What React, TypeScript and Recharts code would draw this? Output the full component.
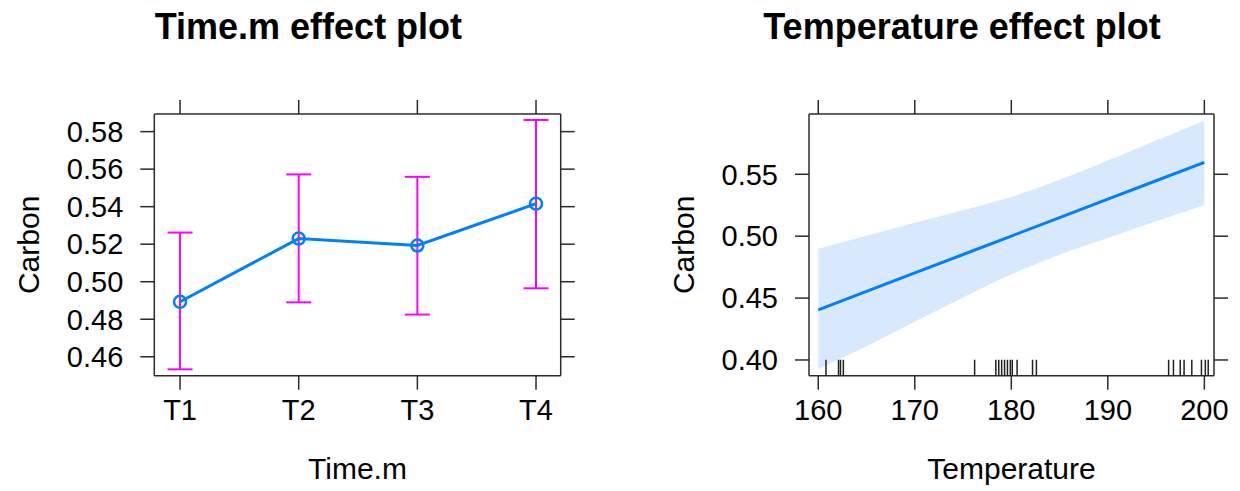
import React from 'react';
import { ComposedChart, Line, Area, Scatter, XAxis, YAxis, ErrorBar, Label } from 'recharts';

// Time.m effect: fitted means with 95% limits
const timeLevels = ['T1', 'T2', 'T3', 'T4'];
const timeFit = [0.4893, 0.523, 0.5193, 0.5416];
const timeLower = [0.4533, 0.489, 0.4825, 0.4965];
const timeUpper = [0.5262, 0.5572, 0.5559, 0.5862];
const timeYTicks = [0.46, 0.48, 0.5, 0.52, 0.54, 0.56, 0.58];
const timeXDomain = [0.783, 4.208];
const timeYDomain = [0.4499, 0.5894];

// Temperature effect: fitted line with confidence band
const tempGrid = [160, 165, 170, 175, 180, 185, 190, 195, 200];
const tempFit = [0.4405, 0.4554, 0.4703, 0.4852, 0.5001, 0.515, 0.5299, 0.5448, 0.5597];
const tempLower = [0.3925, 0.411, 0.431, 0.4505, 0.4692, 0.485, 0.4985, 0.512, 0.5252];
const tempUpper = [0.4898, 0.5003, 0.5108, 0.521, 0.5316, 0.5455, 0.5612, 0.5772, 0.5933];
const tempRug = [
  160.8, 162.1, 162.3, 162.6, 176.2, 178.4, 178.7, 179.0, 179.3, 179.6, 179.9,
  180.1, 180.6, 182.2, 182.6, 196.3, 196.8, 197.5, 197.9, 198.7, 199.7, 200.1, 200.4,
];
const tempXTicks = [160, 170, 180, 190, 200];
const tempYTicks = [0.4, 0.45, 0.5, 0.55];
const tempXDomain = [159.04, 201.0];
const tempYDomain = [0.3873, 0.5987];

const FONT = '"Liberation Sans", Arial, Helvetica, sans-serif';
const AXIS = '#2b2b2b';
const BLUE = '#0080ff';
const MAGENTA = '#ff00ff';
const BAND = '#d8e9fd';

const PANEL_W = 620;
const PANEL_H = 491;
const PLOT_TOP = 114;
const PLOT_BOTTOM_SPACE = 115.3;
const TICK_LEN = 14;

const tickStyle = { fill: '#000', fontSize: 29, fontFamily: FONT };
const axisCommon = {
  stroke: AXIS,
  strokeWidth: 1.5,
  tickSize: TICK_LEN,
  interval: 0 as const,
};
const blankTick = () => '';

const timeRows = timeLevels.map((lv, i) => ({
  pos: i + 1,
  level: lv,
  fit: timeFit[i],
  err: [timeFit[i] - timeLower[i], timeUpper[i] - timeFit[i]],
}));

const tempRows = tempGrid.map((t, i) => ({
  t,
  fit: tempFit[i],
  band: [tempLower[i], tempUpper[i]],
}));

const rugRows = tempRug.map((t) => ({ t, y: tempYDomain[0] }));

function titleContent(text: string, x: number) {
  return () => (
    <text x={x} y={38.5} textAnchor="middle" fontFamily={FONT} fontWeight="bold" fontSize={36} fill="#000">
      {text}
    </text>
  );
}

function xLabelContent(text: string, x: number) {
  return () => (
    <text x={x} y={478.5} textAnchor="middle" fontFamily={FONT} fontSize={30} fill="#000">
      {text}
    </text>
  );
}

function yLabelContent(text: string, x: number, y: number) {
  return () => (
    <text
      x={x}
      y={y}
      transform={`rotate(-90, ${x}, ${y})`}
      textAnchor="middle"
      fontFamily={FONT}
      fontSize={30}
      fill="#000"
    >
      {text}
    </text>
  );
}

const RugTick = (props: any) => {
  const { cx, cy } = props;
  if (cx == null || cy == null) return null;
  return <line x1={cx} x2={cx} y1={cy} y2={cy - 16} stroke="#222" strokeWidth={1.5} />;
};

function TimePanel() {
  const leftW = 154.3;
  const rightW = PANEL_W - 560.7;
  const plotH = PANEL_H - PLOT_TOP - PLOT_BOTTOM_SPACE;
  const plotW = PANEL_W - leftW - rightW;
  return (
    <ComposedChart
      width={PANEL_W}
      height={PANEL_H}
      data={timeRows}
      margin={{ top: 0, right: 0, bottom: 0, left: 0 }}
    >
      <XAxis
        xAxisId="b"
        dataKey="pos"
        type="number"
        orientation="bottom"
        height={PLOT_BOTTOM_SPACE}
        domain={timeXDomain}
        allowDataOverflow
        ticks={[1, 2, 3, 4]}
        tickFormatter={(v: number) => timeLevels[v - 1]}
        tick={tickStyle}
        tickMargin={10}
        {...axisCommon}
      >
        <Label content={xLabelContent('Time.m', leftW + plotW / 2)} />
      </XAxis>
      <XAxis
        xAxisId="t"
        dataKey="pos"
        type="number"
        orientation="top"
        height={PLOT_TOP}
        domain={timeXDomain}
        allowDataOverflow
        ticks={[1, 2, 3, 4]}
        tickFormatter={blankTick}
        tick={tickStyle}
        {...axisCommon}
      >
        <Label content={titleContent('Time.m effect plot', 308.4)} />
      </XAxis>
      <YAxis
        yAxisId="l"
        orientation="left"
        width={leftW}
        domain={timeYDomain}
        allowDataOverflow
        ticks={timeYTicks}
        tickFormatter={(v: number) => v.toFixed(2)}
        tick={tickStyle}
        tickMargin={17}
        {...axisCommon}
      >
        <Label content={yLabelContent('Carbon', 39, PLOT_TOP + plotH / 2)} />
      </YAxis>
      <YAxis
        yAxisId="r"
        orientation="right"
        width={rightW}
        domain={timeYDomain}
        allowDataOverflow
        ticks={timeYTicks}
        tickFormatter={blankTick}
        tick={tickStyle}
        {...axisCommon}
      />
      <Line
        xAxisId="b"
        yAxisId="l"
        dataKey="fit"
        type="linear"
        stroke={BLUE}
        strokeWidth={3}
        dot={{ r: 6, stroke: BLUE, strokeWidth: 2.5, fill: 'none' }}
        activeDot={false}
        isAnimationActive={false}
      >
        <ErrorBar dataKey="err" direction="y" width={12.5} stroke={MAGENTA} strokeWidth={2} />
      </Line>
    </ComposedChart>
  );
}

function TempPanel() {
  const leftW = 189;
  const rightW = PANEL_W - 594;
  const plotH = PANEL_H - PLOT_TOP - PLOT_BOTTOM_SPACE;
  const plotW = PANEL_W - leftW - rightW;
  return (
    <ComposedChart
      width={PANEL_W}
      height={PANEL_H}
      data={tempRows}
      margin={{ top: 0, right: 0, bottom: 0, left: 0 }}
    >
      <XAxis
        xAxisId="b"
        dataKey="t"
        type="number"
        orientation="bottom"
        height={PLOT_BOTTOM_SPACE}
        domain={tempXDomain}
        allowDataOverflow
        ticks={tempXTicks}
        tick={tickStyle}
        tickMargin={10}
        {...axisCommon}
      >
        <Label content={xLabelContent('Temperature', leftW + plotW / 2)} />
      </XAxis>
      <XAxis
        xAxisId="t"
        dataKey="t"
        type="number"
        orientation="top"
        height={PLOT_TOP}
        domain={tempXDomain}
        allowDataOverflow
        ticks={tempXTicks}
        tickFormatter={blankTick}
        tick={tickStyle}
        {...axisCommon}
      >
        <Label content={titleContent('Temperature effect plot', 342)} />
      </XAxis>
      <YAxis
        yAxisId="l"
        orientation="left"
        width={leftW}
        domain={tempYDomain}
        allowDataOverflow
        ticks={tempYTicks}
        tickFormatter={(v: number) => v.toFixed(2)}
        tick={tickStyle}
        tickMargin={17}
        {...axisCommon}
      >
        <Label content={yLabelContent('Carbon', 74, PLOT_TOP + plotH / 2)} />
      </YAxis>
      <YAxis
        yAxisId="r"
        orientation="right"
        width={rightW}
        domain={tempYDomain}
        allowDataOverflow
        ticks={tempYTicks}
        tickFormatter={blankTick}
        tick={tickStyle}
        {...axisCommon}
      />
      <Area
        xAxisId="b"
        yAxisId="l"
        dataKey="band"
        type="monotone"
        stroke="none"
        fill={BAND}
        fillOpacity={1}
        activeDot={false}
        isAnimationActive={false}
      />
      <Line
        xAxisId="b"
        yAxisId="l"
        dataKey="fit"
        type="linear"
        stroke={BLUE}
        strokeWidth={3}
        dot={false}
        activeDot={false}
        isAnimationActive={false}
      />
      <Scatter
        xAxisId="b"
        yAxisId="l"
        data={rugRows}
        dataKey="y"
        shape={<RugTick />}
        isAnimationActive={false}
      />
    </ComposedChart>
  );
}

export default function App() {
  return (
    <div
      style={{
        position: 'absolute',
        left: 0,
        top: 0,
        width: 1240,
        height: 491,
        background: '#fff',
        overflow: 'hidden',
      }}
    >
      <div style={{ position: 'absolute', left: 0, top: 0 }}>
        <TimePanel />
      </div>
      <div style={{ position: 'absolute', left: 620, top: 0 }}>
        <TempPanel />
      </div>
    </div>
  );
}
